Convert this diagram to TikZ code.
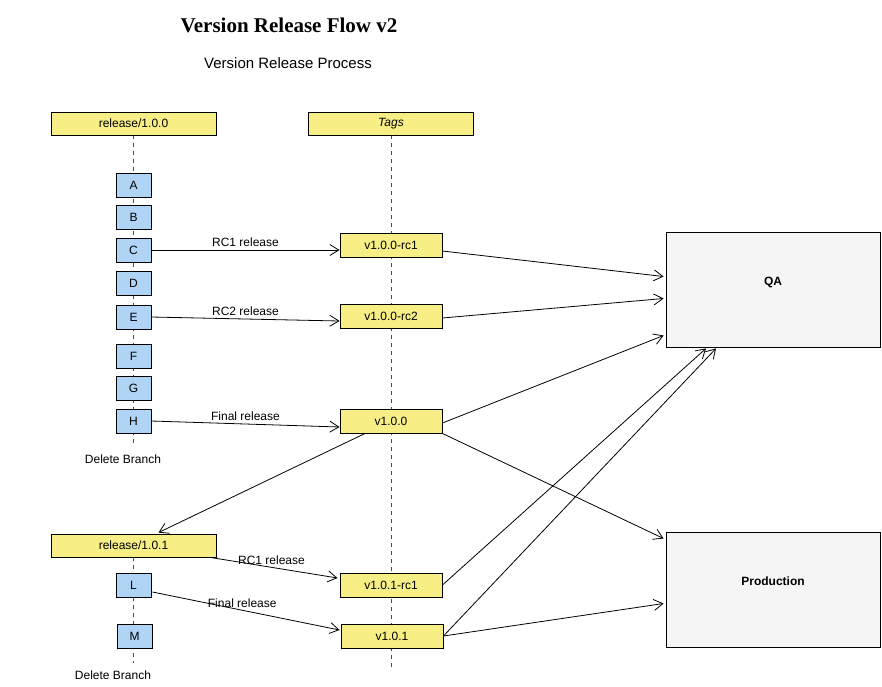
\documentclass[tikz,border=0pt]{standalone}
\usepackage{fontspec}
\setmainfont{Liberation Sans}
\newfontfamily\titlefont{Liberation Serif}
\usetikzlibrary{arrows.meta,calc,backgrounds}
\definecolor{tagyellow}{RGB}{247,238,134}
\definecolor{cblue}{RGB}{176,212,246}
\definecolor{envgray}{RGB}{245,245,245}
\begin{document}
\begin{tikzpicture}[x=1pt,y=-1pt,
  txt/.style={font=\fontsize{12}{14}\selectfont},
  lane/.style={draw, line width=0.9pt, fill=tagyellow, minimum width=165pt, minimum height=23pt, inner sep=0pt, txt},
  commit/.style={draw, line width=0.9pt, fill=cblue, minimum width=35pt, minimum height=24pt, inner sep=0pt, txt},
  tagbox/.style={draw, line width=0.9pt, fill=tagyellow, minimum width=102pt, minimum height=24pt, inner sep=0pt, txt},
  env/.style={draw, line width=0.9pt, fill=envgray, minimum width=214pt, minimum height=115pt, inner sep=0pt, font=\fontsize{12}{14}\selectfont\bfseries},
  life/.style={dash pattern=on 4pt off 4pt, line width=0.9pt, black!70},
  flow/.style={-{Straight Barb[length=9pt,width=11pt]}, line width=0.8pt, black},
  lbl/.style={inner sep=1pt, txt}
]
\useasboundingbox (0,0) rectangle (882,686);

\node[font=\titlefont\fontsize{21}{24}\selectfont\bfseries] (title) at (289,25) {Version Release Flow v2};
\node[font=\fontsize{15}{17}\selectfont] (subtitle) at (288,63) {Version Release Process};

\node[lane] (rel100) at (133.5,123.5) {release/1.0.0};
\node[lane, font=\fontsize{12}{14}\selectfont\itshape] (tags) at (391,123.5) {Tags};

\node[commit] (A) at (133.5,185) {A};
\node[commit] (B) at (133.5,217) {B};
\node[commit] (C) at (133.5,250) {C};
\node[commit] (D) at (133.5,283) {D};
\node[commit] (E) at (133.5,317) {E};
\node[commit] (F) at (133.5,356) {F};
\node[commit] (G) at (133.5,388) {G};
\node[commit] (H) at (133.5,421) {H};
\node[lbl] (del1) at (123,459) {Delete Branch};

\node[tagbox] (rc1) at (391,245) {v1.0.0-rc1};
\node[tagbox] (rc2) at (391,316) {v1.0.0-rc2};
\node[tagbox] (v100) at (391,421) {v1.0.0};

\node[lane] (rel101) at (133.5,545.5) {release/1.0.1};
\node[commit] (L) at (133.5,585) {L};
\node[commit] (M) at (134.5,636) {M};
\node[lbl] (del2) at (113,675) {Delete Branch};

\node[tagbox] (v101rc1) at (391,585) {v1.0.1-rc1};
\node[tagbox] (v101) at (392,636) {v1.0.1};

\node[env] (qa) at (773,289.5) {\raisebox{16pt}{QA}};
\node[env] (prod) at (773,589.5) {\raisebox{16pt}{Production}};

\coordinate (end1) at (133.5,447);
\coordinate (end2) at (133.5,663);
\coordinate (endt) at (391,668);

\begin{scope}[on background layer]
  \draw[life] (rel100.south) -- (end1);
  \draw[life] (rel101.south) -- (end2);
  \draw[life] (tags.south) -- (endt);
\end{scope}

% releases from branch to tags
\draw[flow] (C.east) -- (C.east -| rc1.west) node[lbl, midway, above=2pt] {RC1 release};
\draw[flow] (E.east) -- ($(rc2.west)+(0,5)$) node[lbl, midway, above=2pt] {RC2 release};
\draw[flow] (H.east) -- ($(v100.west)+(0,6)$) node[lbl, midway, above=2pt] {Final release};
\draw[flow] ($(v100.south)+(-26,0)$) -- ($(rel101.north)+(25,-1)$);
\draw[flow] ($(rel101.south east)+(-6,0)$) -- ($(v101rc1.west)+(-2,-7)$) node[lbl, pos=0.48, above=1pt] {RC1 release};
\draw[flow] ($(L.east)+(1,7)$) -- ($(v101.west)+(-1,-6)$) node[lbl, pos=0.48, above=1pt] {Final release};

% tags to environments
\draw[flow] ($(rc1.east)+(0,6)$) -- ($(qa.west)+(-2,-13)$);
\draw[flow] ($(rc2.east)+(0,2)$) -- ($(qa.west)+(-2,9)$);
\draw[flow] ($(v100.east)+(0,2)$) -- ($(qa.west)+(-2,46)$);
\draw[flow] (v100.south east) -- ($(prod.west)+(-2,-51)$);
\draw[flow] (v101rc1.east) -- ($(qa.south)+(-67,1)$);
\draw[flow] (v101.east) -- ($(qa.south)+(-57,1)$);
\draw[flow] (v101.east) -- ($(prod.west)+(-2,14)$);
\end{tikzpicture}
\end{document}
